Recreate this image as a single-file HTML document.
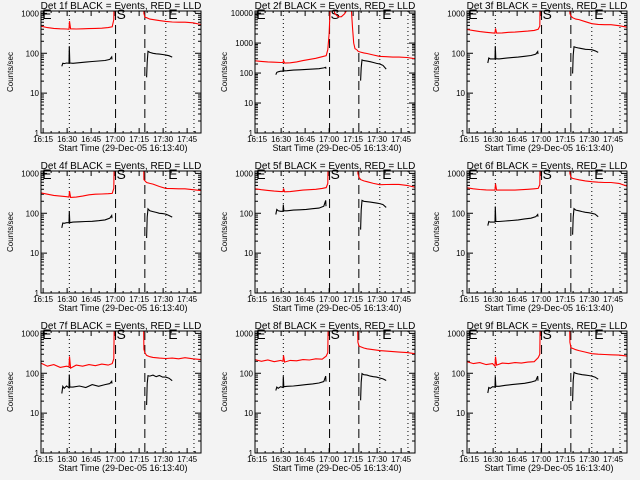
<!DOCTYPE html>
<html><head><meta charset="utf-8"><style>
html,body{margin:0;padding:0;background:#f3f3f3;}
svg{display:block;font-family:"Liberation Sans",sans-serif;}
</style></head><body>
<svg id="chart" width="640" height="480" viewBox="0 0 640 480" xmlns="http://www.w3.org/2000/svg">
<rect x="0" y="0" width="640" height="480" fill="#f3f3f3"/>
</svg>
<script>
// minutes after 16:13:40
const detectorNames = ["1f","2f","3f","4f","5f","6f","7f","8f","9f"];
const xTickLabels = ["16:15","16:30","16:45","17:00","17:15","17:30","17:45"];
const xTickMinutes = [1.333,16.333,31.333,46.333,61.333,76.333,91.333];
const dottedTimes = [17.7,78,95.6];
const dashedTimes = [46.6,64.9];
const yLogTop = [3.06,4.07,3.06,3.06,3.06,3.06,3.06,3.06,3.06];

const redBeforeTimes = [0,4,8,12,16,17.5,17.8,18.5,22,26,30,34,38,42,44.5,45.5,46.3];
const redBeforeVals = [
 [478,440,420,410,405,400,640,410,405,410,415,420,425,440,460,700,1e5],
 [257,245,235,230,225,225,260,215,220,235,260,285,310,350,380,600,2000],
 [395,370,350,335,325,320,420,320,325,335,340,350,360,375,400,480,1e5],
 [325,300,280,270,260,255,360,250,255,270,290,300,305,310,315,420,1e5],
 [410,390,375,360,350,350,420,345,350,365,380,390,400,420,440,560,1e5],
 [435,410,395,385,380,380,550,380,380,380,380,390,400,410,420,520,1e5],
 [180,150,165,140,150,145,265,135,160,150,165,155,170,160,175,230,1e5],
 [220,200,215,195,210,200,280,190,210,205,220,215,230,225,270,330,1e5],
 [195,175,185,165,175,150,260,160,180,175,185,180,190,195,245,300,1e5]
];
const redMidTimes = [46.3,47,48,50,52,54,56,58,60,61,61.7,62.5,63.6];
const redMidVals = [2000,15000,20000,9500,7500,7600,9500,14000,20000,3000,1000,650,600];

const redAfterTimes = [63.6,64.3,65,66,68,70,74,78,82,86,90,95,100];
const redAfterVals = [
 [1e5,1000,800,780,720,700,660,630,610,600,600,580,525],
 [600,540,520,500,470,450,400,360,350,340,340,330,300],
 [1e5,1000,850,780,720,700,620,550,530,520,520,490,450],
 [1e5,700,650,590,560,540,470,420,415,410,410,390,370],
 [1e5,1000,800,700,650,620,560,520,525,530,530,500,450],
 [1e5,1000,800,750,720,690,650,620,600,590,590,560,480],
 [1e5,400,325,280,260,250,240,235,240,230,245,230,220],
 [1e5,600,480,460,430,410,390,370,360,350,340,330,310],
 [1e5,600,435,420,390,370,340,310,300,295,290,285,270]
];

const blackBeforeTimes = [13,13.6,14.5,16,17.5,17.7,18,20,24,28,32,36,40,43,44.2,44.4];
const blackBeforeVals = [
 [47,56,55,57,56,150,57,56,58,60,62,64,66,70,81,70],
 [88,105,110,115,115,160,118,120,125,128,132,135,140,148,155,140],
 [57,76,72,72,72,150,73,72,75,78,80,84,88,95,110,95],
 [43,57,56,58,58,112,58,60,61,62,63,65,68,75,88,75],
 [93,124,115,112,112,165,115,115,120,122,125,130,135,150,210,150],
 [49,62,60,60,60,148,62,62,64,66,68,72,75,82,93,82],
 [31,47,42,48,43,93,45,45,48,44,52,47,52,55,63,55],
 [37,45,42,46,44,85,46,47,48,50,52,54,57,62,85,62],
 [32,44,42,46,45,85,47,47,50,52,54,56,60,65,85,65]
];
const blackAfterTimes = [66,66.4,66.9,68,70,72,74,76,78,80,82];
const blackAfterVals = [
 [25,60,112,105,100,97,95,93,90,87,80],
 [56,150,275,260,250,240,225,210,200,180,135],
 [31,90,145,140,135,130,126,124,123,115,105],
 [24,80,129,115,110,105,100,98,95,88,80],
 [39,120,210,200,195,190,185,180,175,165,140],
 [29,80,130,120,115,110,106,103,100,95,82],
 [16,55,87,85,90,82,88,80,80,75,65],
 [21,60,98,92,90,85,82,80,76,72,66],
 [20,65,106,100,95,92,90,88,85,80,71]
];

const NS = "http://www.w3.org/2000/svg";
const svg = document.getElementById("chart");
const colLeft = [41,255,467];
const rowTop = [11,171,331];
const W = 160, H = 122;

function mk(tag, attrs, parent){
  const e = document.createElementNS(NS, tag);
  for (const k in attrs) e.setAttribute(k, attrs[k]);
  parent.appendChild(e);
  return e;
}

for (let p = 0; p < 9; p++) {
  const L = colLeft[p % 3], T = rowTop[Math.floor(p / 3)], B = T + H;
  const top = yLogTop[p];
  const xs = t => L + t * 1.6;
  const ys = v => B - Math.log10(v) / top * H;
  const g = mk("g", {}, svg);
  
  

  const cp = mk("clipPath", {id: "clip" + p}, g);
  mk("rect", {x: L, y: T, width: W, height: H}, cp);

  const title = mk("text", {x: L + 80, y: T - 2, "font-size": "10", "text-anchor": "middle", fill: "#000"}, g);
  title.textContent = "Det " + detectorNames[p] + " BLACK = Events, RED = LLD";
  
  

  const yt = mk("text", {x: 0, y: 0, "font-size": "8", "text-anchor": "middle", fill: "#000",
    transform: "translate(" + (L - 28) + "," + (T + 61) + ") rotate(-90)"}, g);
  yt.textContent = "Counts/sec";
  
  

  const xt = mk("text", {x: L + 82, y: B + 18, "font-size": "9", "text-anchor": "middle", fill: "#000"}, g);
  xt.textContent = "Start Time (29-Dec-05 16:13:40)";
  
  

  const maxDec = Math.floor(top);
  for (let d = 0; d <= maxDec; d++) {
    const y = ys(Math.pow(10, d));
    mk("line", {x1: L, x2: L + 6, y1: y, y2: y, stroke: "#000"}, g);
    mk("line", {x1: L + W - 6, x2: L + W, y1: y, y2: y, stroke: "#000"}, g);
    const lb = mk("text", {x: L - 2, y: y + 3, "font-size": "8", "text-anchor": "end", fill: "#000"}, g);
    lb.textContent = String(Math.pow(10, d));
    
    
    for (let m = 2; m <= 9; m++) {
      const v = m * Math.pow(10, d);
      if (Math.log10(v) > top) break;
      const yy = ys(v);
      mk("line", {x1: L, x2: L + 3, y1: yy, y2: yy, stroke: "#000"}, g);
      mk("line", {x1: L + W - 3, x2: L + W, y1: yy, y2: yy, stroke: "#000"}, g);
    }
  }
  for (let i = 0; i < xTickMinutes.length; i++) {
    const x = xs(xTickMinutes[i]);
    mk("line", {x1: x, x2: x, y1: B, y2: B - 5, stroke: "#000"}, g);
    mk("line", {x1: x, x2: x, y1: T, y2: T + 5, stroke: "#000"}, g);
    const lb = mk("text", {x: x, y: B + 9, "font-size": "8", "text-anchor": "middle", fill: "#000"}, g);
    lb.textContent = xTickLabels[i];
    
    
    for (let k = 1; k <= 2; k++) {
      const xm = xs(xTickMinutes[i] + 5 * k);
      if (xm < L + W) {
        mk("line", {x1: xm, x2: xm, y1: B, y2: B - 2, stroke: "#000"}, g);
        mk("line", {x1: xm, x2: xm, y1: T, y2: T + 2, stroke: "#000"}, g);
      }
    }
  }
  dottedTimes.forEach(t => {
    const l = mk("line", {x1: xs(t), x2: xs(t), y1: T, y2: B, stroke: "#000", "stroke-dasharray": "1,3"}, g);
    
    
  });
  dashedTimes.forEach(t => {
    const l = mk("line", {x1: xs(t), x2: xs(t), y1: T, y2: B, stroke: "#000", "stroke-dasharray": "9,5"}, g);
    
    
  });
  [["E", 0.8], ["S", dashedTimes[0] + 0.6], ["E", dottedTimes[1] + 1.5]].forEach(a => {
    const tx = mk("text", {x: xs(a[1]), y: T + 8, "font-size": "14", fill: "#000"}, g);
    tx.textContent = a[0];
    
    
  });

  const line = (times, vals, color, name) => {
    const pts = times.map((t, i) => xs(t).toFixed(1) + "," + ys(vals[i]).toFixed(1)).join(" ");
    const pl = mk("polyline", {points: pts, fill: "none", stroke: color, "stroke-width": 1.1, "clip-path": "url(#clip" + p + ")"}, g);
    
    
  };
  line(redBeforeTimes, redBeforeVals[p], "#ff0000", "lld-series-before");
  if (p === 1) line(redMidTimes, redMidVals, "#ff0000", "lld-series-flare");
  line(redAfterTimes, redAfterVals[p], "#ff0000", "lld-series-after");
  line(blackBeforeTimes, blackBeforeVals[p], "#000", "events-series-before");
  line(blackAfterTimes, blackAfterVals[p], "#000", "events-series-after");

  const box = mk("rect", {x: L, y: T, width: W, height: H, fill: "none", stroke: "#000"}, g);
  
  
}
</script>
</body></html>
